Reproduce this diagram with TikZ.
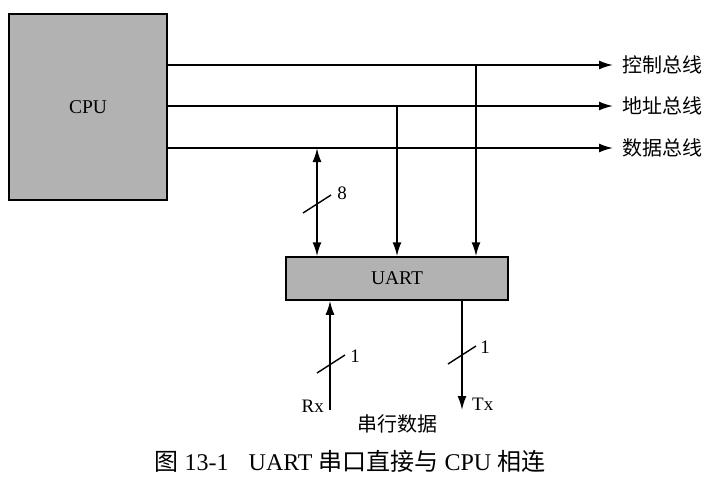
\documentclass[tikz,border=0pt]{standalone}
\usepackage{fontspec}
\setmainfont{Liberation Serif}
\newfontfamily\cjk{Noto Sans CJK SC}
\usetikzlibrary{arrows.meta}
\begin{document}
\begin{tikzpicture}[x=1pt,y=-1pt,
  box/.style={draw=black, line width=1.5pt, fill=gray!60, inner sep=0pt, font=\fontsize{19.5}{21}\selectfont},
  wire/.style={line width=1.8pt},
  arr/.style={wire, -{Latex[length=14pt,width=9pt]}},
  barr/.style={wire, {Latex[length=14pt,width=9pt]}-{Latex[length=14pt,width=9pt]}},
  lbl/.style={font=\cjk\fontsize{20}{22}\selectfont, anchor=west, inner sep=0pt},
  num/.style={font=\fontsize{19}{21}\selectfont, inner sep=0pt},
  slash/.style={line width=1.4pt}]
\useasboundingbox (0,0) rectangle (728,496);
\node[box, minimum width=158pt, minimum height=186pt] (cpu) at (88,107) {CPU};
\node[box, minimum width=222pt, minimum height=43pt] (uart) at (397,278.5) {UART};
% bus labels
\node[lbl] (ctrl) at (622,65) {控制总线};
\node[lbl] (addr) at (622,106) {地址总线};
\node[lbl] (data) at (622,148) {数据总线};
% bus lines
\draw[arr] (cpu.east |- ctrl) -- ([xshift=-9pt]ctrl.west);
\draw[arr] (cpu.east |- addr) -- ([xshift=-9pt]addr.west);
\draw[arr] (cpu.east |- data) -- ([xshift=-9pt]data.west);
% taps
\coordinate (tapd) at (317,148);
\coordinate (tapa) at (397,106);
\coordinate (tapc) at (476,65);
\draw[barr] (tapd) -- (uart.north -| tapd);
\draw[arr] (tapa) -- (uart.north -| tapa);
\draw[arr] (tapc) -- (uart.north -| tapc);
% serial lines
\coordinate (rxend) at (330,410);
\coordinate (txend) at (462,410);
\draw[arr] (rxend) -- (uart.south -| rxend);
\draw[arr] (uart.south -| txend) -- (txend);
% width marks
\draw[slash] (303,213) -- (331,195);
\draw[slash] (317,373) -- (345,355);
\draw[slash] (448,364) -- (476,346);
\node[num] (n8) at (342,193) {8};
\node[num] (n1a) at (355,356) {1};
\node[num] (n1b) at (485,347) {1};
\node[num, anchor=east] (rx) at (324,406) {Rx};
\node[num, anchor=west] (tx) at (472,404) {Tx};
\node[lbl, anchor=center] (ser) at (397,424) {串行数据};
% caption
\node[font=\fontsize{24}{26}\selectfont, inner sep=0pt] (cap) at (350,461) {{\cjk 图} 13-1\hspace{20pt}UART {\cjk 串口直接与} CPU {\cjk 相连}};
\end{tikzpicture}
\end{document}
